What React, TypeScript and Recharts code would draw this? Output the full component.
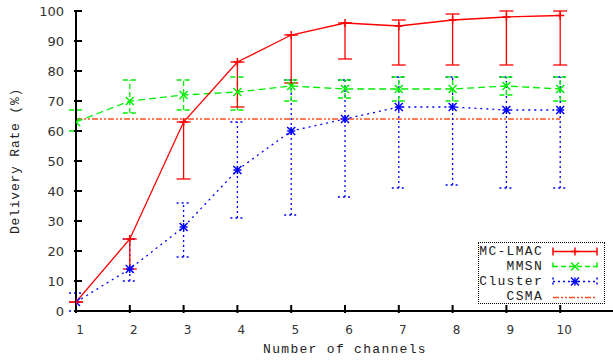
import React from "react";
import { ComposedChart, Line, XAxis, YAxis, ErrorBar, Legend } from "recharts";

const channels = [1, 2, 3, 4, 5, 6, 7, 8, 9, 10];
const xTicks = [1, 2, 3, 4, 5, 6, 7, 8, 9, 10];
const yTicks = [0, 10, 20, 30, 40, 50, 60, 70, 80, 90, 100];

const mcLmac = [3, 24, 63, 83, 92, 96, 95, 97, 98, 98.5];
const mcLmacLow = [3, 14, 44, 68, 76, 84, 82, 82, 82, 82];
const mcLmacHigh = [3, 24, 63, 83, 92, 96, 97, 99, 100, 100];

const mmsn = [63, 70, 72, 73, 75, 74, 74, 74, 75, 74];
const mmsnLow = [60, 66, 67, 67, 70, 71, 70, 70, 72, 70];
const mmsnHigh = [67, 77, 77, 78, 77, 77, 78, 78, 78, 78];

const cluster = [3, 14, 28, 47, 60, 64, 68, 68, 67, 67];
const clusterLow = [0, 10, 18, 31, 32, 38, 41, 42, 41, 41];
const clusterHigh = [6, 24, 36, 63, 77, 77, 78, 78, 78, 78];

const csma = [64, 64, 64, 64, 64, 64, 64, 64, 64, 64];

const RED = "#ff0000";
const GREEN = "#00ee00";
const BLUE = "#0000ff";
const ORANGE = "#ff5020";
const MONO = "'Liberation Mono', 'DejaVu Sans Mono', monospace";
const SANS = "'DejaVu Sans', sans-serif";

const data = channels.map((c, i) => ({
  x: c,
  mc: mcLmac[i],
  mcErr: [mcLmac[i] - mcLmacLow[i], mcLmacHigh[i] - mcLmac[i]],
  mm: mmsn[i],
  mmErr: [mmsn[i] - mmsnLow[i], mmsnHigh[i] - mmsn[i]],
  cl: cluster[i],
  clErr: [cluster[i] - clusterLow[i], clusterHigh[i] - cluster[i]],
  csma: csma[i]
}));

const PlusDot = (props: any) => {
  const { cx, cy } = props;
  if (cx == null || cy == null) return null;
  return <g stroke={RED} strokeWidth={1.5}>
      <line x1={cx - 4} x2={cx + 4} y1={cy} y2={cy} />
      <line x1={cx} x2={cx} y1={cy - 4} y2={cy + 4} />
    </g>;
};

const CrossDot = (props: any) => {
  const { cx, cy } = props;
  if (cx == null || cy == null) return null;
  return <g stroke={GREEN} strokeWidth={1.5}>
      <line x1={cx - 4} x2={cx + 4} y1={cy - 4} y2={cy + 4} />
      <line x1={cx - 4} x2={cx + 4} y1={cy + 4} y2={cy - 4} />
    </g>;
};

const StarDot = (props: any) => {
  const { cx, cy } = props;
  if (cx == null || cy == null) return null;
  return <g stroke={BLUE} strokeWidth={1.5}>
      <line x1={cx - 4} x2={cx + 4} y1={cy} y2={cy} />
      <line x1={cx} x2={cx} y1={cy - 4} y2={cy + 4} />
      <line x1={cx - 4} x2={cx + 4} y1={cy - 4} y2={cy + 4} />
      <line x1={cx - 4} x2={cx + 4} y1={cy + 4} y2={cy - 4} />
    </g>;
};

const BottomTick = ({ x, y, payload }: any) => <g>
    <line x1={x} x2={x} y1={y} y2={y - 8} stroke="#000" strokeWidth={2} />
    <text x={x + 4} y={y + 21} textAnchor="middle" fontFamily={SANS} fontSize={12} fill="#333">
      {payload.value}
    </text>
  </g>;

const LeftTick = ({ x, y, payload }: any) => <g>
    <line x1={x} x2={x + 8} y1={y} y2={y} stroke="#000" strokeWidth={2} />
    <text x={x - 10} y={y} dy="0.36em" textAnchor="end" fontFamily={SANS} fontSize={13} fill="#333">
      {payload.value}
    </text>
  </g>;

const TopTick = ({ x, y }: any) => <line x1={x} x2={x} y1={y} y2={y + 6} stroke="#000" strokeWidth={2} />;

const RightTick = ({ x, y }: any) => <line x1={x} x2={x - 7} y1={y} y2={y} stroke="#000" strokeWidth={2} />;

const legendItems = [{
  name: "MC-LMAC",
  color: RED,
  dash: undefined,
  marker: "plus",
  caps: true
}, {
  name: "MMSN",
  color: GREEN,
  dash: "5 3",
  marker: "cross",
  caps: true
}, {
  name: "Cluster",
  color: BLUE,
  dash: "2 3",
  marker: "star",
  caps: true
}, {
  name: "CSMA",
  color: ORANGE,
  dash: "6 2 2 2 2 2",
  marker: "none",
  caps: false
}];

const LegendSample = ({ item }: any) => {
  const c = item.color;
  const m = 22;
  return <svg width={48} height={15} style={{ display: "block" }}>
      <line x1={2} x2={46} y1={7.5} y2={7.5} stroke={c} strokeWidth={1.5} strokeDasharray={item.dash} />
      {item.caps && <>
          <line x1={2} x2={2} y1={3.5} y2={11.5} stroke={c} strokeWidth={1.5} strokeDasharray={item.dash} />
          <line x1={46} x2={46} y1={3.5} y2={11.5} stroke={c} strokeWidth={1.5} strokeDasharray={item.dash} />
        </>}
      {item.marker === "plus" && <PlusDot cx={m + 2} cy={7.5} />}
      {item.marker === "cross" && <CrossDot cx={m + 2} cy={7.5} />}
      {item.marker === "star" && <StarDot cx={m + 2} cy={7.5} />}
    </svg>;
};

const renderLegend = () => <div style={{
  width: 127,
  height: 62,
  boxSizing: "border-box",
  border: "1px dotted #000",
  paddingTop: 1
}}>
    {legendItems.map(item => <div key={item.name} style={{
    display: "flex",
    alignItems: "center",
    height: 15.2
  }}>
        <div style={{
      width: 64,
      textAlign: "right",
      fontFamily: MONO,
      fontSize: 13,
      letterSpacing: 1.3,
      color: "#222",
      lineHeight: "14px"
    }}>{item.name}</div>
        <div style={{ marginLeft: 8 }}><LegendSample item={item} /></div>
      </div>)}
  </div>;

const App = () => {
  return <div style={{
    position: "absolute",
    left: 0,
    top: 0,
    width: 613,
    height: 360,
    overflow: "hidden",
    background: "#fff"
  }}>
      <ComposedChart width={616} height={360} data={data} margin={{
      top: 11,
      right: 2,
      bottom: 0,
      left: 0
    }}>
        <XAxis dataKey="x" type="number" domain={[1, 11]} ticks={xTicks} allowDataOverflow tickSize={0} tickLine={false} axisLine={{
        stroke: "#000",
        strokeWidth: 2
      }} tick={<BottomTick />} height={49} interval={0} label={{
        value: "Number of channels",
        position: "insideBottom",
        offset: 7,
        style: {
          fontFamily: MONO,
          fontSize: 13,
          letterSpacing: 1.3,
          fill: "#222"
        }
      }} />
        <XAxis xAxisId="top" orientation="top" type="number" domain={[1, 11]} ticks={xTicks} allowDataOverflow tickSize={0} tickLine={false} height={0} interval={0} axisLine={{
        stroke: "#000",
        strokeWidth: 2
      }} tick={<TopTick />} />
        <YAxis type="number" domain={[0, 100]} ticks={yTicks} allowDataOverflow tickSize={0} tickLine={false} width={76} interval={0} axisLine={{
        stroke: "#000",
        strokeWidth: 2
      }} tick={<LeftTick />} label={{
        value: "Delivery Rate (%)",
        angle: -90,
        position: "insideLeft",
        offset: 14,
        style: {
          fontFamily: MONO,
          fontSize: 13,
          letterSpacing: 0.8,
          fill: "#222",
          textAnchor: "middle"
        }
      }} />
        <YAxis yAxisId="right" orientation="right" type="number" domain={[0, 100]} ticks={yTicks} allowDataOverflow tickSize={0} tickLine={false} width={0} interval={0} axisLine={{
        stroke: "#000",
        strokeWidth: 2
      }} tick={<RightTick />} />
        <Legend layout="horizontal" verticalAlign="middle" align="center" content={renderLegend} wrapperStyle={{
        position: "absolute",
        left: 478,
        top: 242,
        width: 127,
        height: 62
      }} />
        <Line dataKey="csma" stroke={ORANGE} strokeWidth={1.4} strokeDasharray="6 2 2 2 2 2" dot={false} isAnimationActive={false} />
        <Line dataKey="cl" stroke={BLUE} strokeWidth={1.3} strokeDasharray="2 4" dot={<StarDot />} isAnimationActive={false}>
          <ErrorBar dataKey="clErr" width={7} stroke={BLUE} strokeWidth={1.3} strokeDasharray="2 3" direction="y" />
        </Line>
        <Line dataKey="mm" stroke={GREEN} strokeWidth={1.3} strokeDasharray="7 4" dot={<CrossDot />} isAnimationActive={false}>
          <ErrorBar dataKey="mmErr" width={7} stroke={GREEN} strokeWidth={1.3} strokeDasharray="5 3" direction="y" />
        </Line>
        <Line dataKey="mc" stroke={RED} strokeWidth={1.3} dot={<PlusDot />} isAnimationActive={false}>
          <ErrorBar dataKey="mcErr" width={7} stroke={RED} strokeWidth={1.3} direction="y" />
        </Line>
      </ComposedChart>
    </div>;
};

export default App;
